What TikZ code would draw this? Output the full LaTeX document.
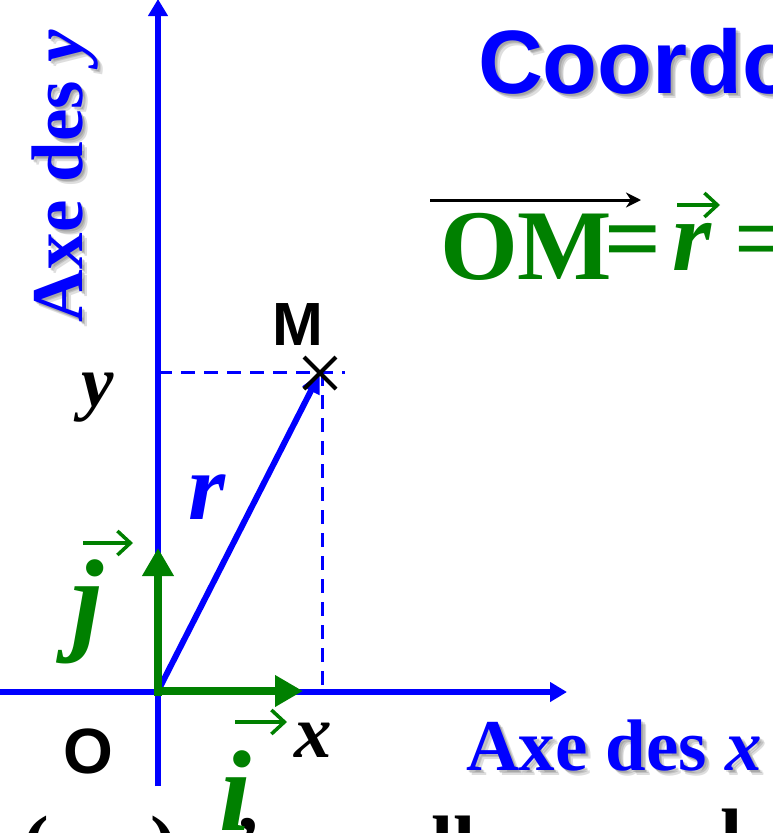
\documentclass[tikz,border=0pt]{standalone}
\usepackage{fontspec}
\setmainfont{Liberation Serif}
\newfontfamily\arialf{Liberation Sans}
\usetikzlibrary{arrows.meta,calc}
\definecolor{pblue}{RGB}{0,0,255}
\definecolor{pgreen}{RGB}{0,128,0}
\tikzset{
  lbl/.style={inner sep=0pt, outer sep=0pt},
  shade1/.style={text=black, text opacity=0.13},
  axisline/.style={pblue, line width=5.5pt, -{Triangle[length=17pt,width=19pt]}},
  unitvec/.style={pgreen, line width=8pt, -{Triangle[length=28pt,width=30pt]}},
  posvec/.style={pblue, line width=6pt, -{Triangle[length=20pt,width=18pt]}},
  guide/.style={pblue, line width=3pt, dash pattern=on 14pt off 9pt},
  overbar/.style={line width=3.5pt, -{Straight Barb[length=13pt,width=24pt]}},
  crossmark/.style={black, line width=4pt},
  titlefont/.style={font=\arialf\bfseries\fontsize{90}{90}\selectfont},
  axisfont/.style={font=\bfseries\fontsize{73}{73}\selectfont},
  eqfont/.style={font=\bfseries\fontsize{100}{100}\selectfont},
  eqitfont/.style={font=\bfseries\itshape\fontsize{100}{100}\selectfont},
  vecfont/.style={font=\bfseries\itshape\fontsize{115}{115}\selectfont},
  cutfont/.style={font=\bfseries\fontsize{80}{80}\selectfont},
}
\begin{document}
\begin{tikzpicture}[x=1pt,y=-1pt]
\useasboundingbox (0,0) rectangle (772,833);
\clip (0,0) rectangle (772,833);
\fill[white] (0,0) rectangle (772,833);

% key points
\coordinate (O) at (158,692);
\coordinate (M) at (320,373);
\coordinate (xs) at (-5,692);
\coordinate (xe) at (567,692);
\coordinate (ys) at (158,786);
\coordinate (ye) at (158,-1);
\coordinate (jS) at (158,696);
\coordinate (jE) at (158,548);
\coordinate (iS) at (154,691);
\coordinate (iE) at (303,691);
\coordinate (yproj) at (158,372);
\coordinate (hEnd) at (345,372);
\coordinate (vTop) at (322,372);
\coordinate (xproj) at (322,692);
\coordinate (rS) at (159,689);

% title (cut by the edge), with soft shadow
\node[lbl, titlefont, anchor=base west, shade1] (titlesh1) at (480,95) {Coordo};
\node[lbl, titlefont, anchor=base west, shade1] (titlesh2) at (481.5,96.5) {Coordo};
\node[lbl, titlefont, anchor=base west, shade1] (titlesh3) at (483,98) {Coordo};
\node[lbl, titlefont, anchor=base west, text=pblue] (title) at (478,93) {Coordo};

% OM = r =
\coordinate (omA) at (430,200);
\coordinate (omB) at (641,200);
\draw[black, line width=3pt, -{Stealth[length=15pt,width=15pt]}] (omA) -- (omB);
\node[lbl, eqfont, anchor=base west, text=pgreen] (om) at (440,279) {OM};
\node[lbl, eqfont, anchor=base west, text=pgreen] (eqa) at (604,272) {=};
\node[lbl, eqitfont, anchor=base west, text=pgreen] (rvec) at (672,270) {r};
\coordinate (rarA) at (677,205);
\coordinate (rarB) at (720,205);
\draw[overbar, pgreen] (rarA) -- (rarB);
\node[lbl, font=\arialf\fontsize{80}{80}\selectfont, anchor=base west, text=pgreen] (eqb) at (735,265) {=};

% axis labels, with soft shadow
\node[lbl, axisfont, rotate=90, anchor=base west, shade1] (ylabsh1) at (84,324) {Axe des \textit{y}};
\node[lbl, axisfont, rotate=90, anchor=base west, shade1] (ylabsh2) at (85.5,325.5) {Axe des \textit{y}};
\node[lbl, axisfont, rotate=90, anchor=base west, shade1] (ylabsh3) at (87,327) {Axe des \textit{y}};
\node[lbl, axisfont, rotate=90, anchor=base west, text=pblue] (ylab) at (82,322) {Axe des \textit{y}};
\node[lbl, axisfont, anchor=base west, shade1] (xlabsh1) at (468,772) {Axe des \textit{x}};
\node[lbl, axisfont, anchor=base west, shade1] (xlabsh2) at (469.5,773.5) {Axe des \textit{x}};
\node[lbl, axisfont, anchor=base west, shade1] (xlabsh3) at (471,775) {Axe des \textit{x}};
\node[lbl, axisfont, anchor=base west, text=pblue] (xlab) at (466,770) {Axe des \textit{x}};

% cut-off line of text at the bottom
\node[lbl, cutfont, anchor=base west] (c1) at (23,871) {(};
\node[lbl, cutfont, anchor=base west] (c2) at (150,871) {)};
\node[lbl, cutfont, anchor=base west] (c3) at (234,871) {’};
\node[lbl, cutfont, anchor=base west] (c4) at (431,871) {ll};
\node[lbl, cutfont, anchor=base west] (c5) at (720,864) {l};

% guides
\draw[guide] (yproj) -- (hEnd);
\draw[guide] (vTop) -- (xproj);

% axes
\draw[axisline] (xs) -- (xe);
\draw[axisline] (ys) -- (ye);

% position vector
\draw[posvec] (rS) -- (M);

% unit vectors
\draw[unitvec] (jS) -- (jE);
\draw[unitvec] (iS) -- (iE);

% point M
\draw[crossmark] ($(M)+(-16,-16)$) -- ($(M)+(16,16)$);
\draw[crossmark] ($(M)+(-16,16)$) -- ($(M)+(16,-16)$);

% labels
\node[lbl, font=\arialf\bfseries\fontsize{64}{64}\selectfont] (olab) at (88,751) {O};
\node[lbl, font=\arialf\bfseries\fontsize{61}{61}\selectfont] (mlab) at (298,325) {M};
\node[lbl, font=\bfseries\itshape\fontsize{73}{73}\selectfont] (ylbl) at (98,398) {y};
\node[lbl, font=\bfseries\itshape\fontsize{75}{75}\selectfont] (xlbl) at (313,740) {x};
\node[lbl, font=\bfseries\itshape\fontsize{95}{95}\selectfont, text=pblue] (rlbl) at (207,497) {r};

% unit vector labels
\node[lbl, vecfont, text=pgreen] (jlbl) at (87,612) {j};
\coordinate (jarA) at (83,543);
\coordinate (jarB) at (133,543);
\draw[overbar, pgreen] (jarA) -- (jarB);
\node[lbl, vecfont, anchor=base west, text=pgreen] (ilbl) at (219,830) {i};
\coordinate (iarA) at (235,722);
\coordinate (iarB) at (287,722);
\draw[overbar, pgreen] (iarA) -- (iarB);
\end{tikzpicture}
\end{document}
